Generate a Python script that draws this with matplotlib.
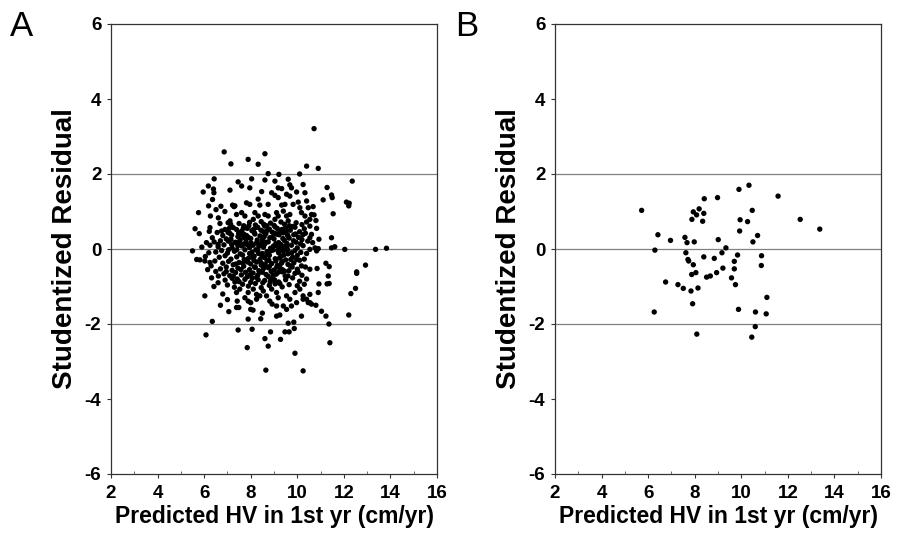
import matplotlib
matplotlib.use("Agg")
import matplotlib.pyplot as plt
from matplotlib.ticker import MultipleLocator

plt.rcParams['font.family'] = ['Liberation Sans', 'DejaVu Sans']

# ---------------- Panel A data ----------------
a_upper = [(6.86,2.59),(7.15,2.27),(6.43,1.87),(6.18,1.68),(5.96,1.52),(6.40,1.60),(6.42,1.50),
           (7.11,1.57),(7.46,1.79),(6.36,1.32),(6.19,1.15),(5.76,0.97),(6.27,0.88),(6.72,1.14),
           (6.51,1.05),(6.61,0.83),(7.22,1.17),(7.28,1.13),(6.89,1.00),(7.11,0.75),(7.03,0.70),
           (7.14,0.66),(6.68,0.68),(6.25,0.57),(5.61,0.54),(5.79,0.41),(6.22,0.47),(6.56,0.44),
           (6.75,0.48),(7.03,0.44),(7.18,0.37),(7.39,0.52),(6.10,0.17),(6.43,0.19),(6.25,0.10),
           (6.60,0.12),(7.04,0.21),(7.18,0.12),(7.32,0.17)]
a_top = [(10.72,3.21),(7.89,2.39),(8.32,2.26),(8.61,2.54),(10.40,2.21),(8.75,2.01),(10.10,2.00),
         (8.04,1.87),(8.61,1.84),(9.04,1.81),(9.61,1.86),(9.21,1.99),(7.61,1.68),(7.96,1.63),
         (9.18,1.63),(9.33,1.61),(9.68,1.71),(9.75,1.63),(10.25,1.72),(8.47,1.53),(8.90,1.50),
         (9.04,1.43),(9.18,1.37),(9.54,1.46),(9.68,1.41),(9.97,1.52),(10.33,1.50),(7.32,1.15),
         (7.82,1.23),(7.96,1.19),(8.32,1.33),(8.39,1.17),(8.75,1.19),(9.82,1.19),(10.04,1.25),
         (10.11,1.10),(10.40,1.28),(10.47,1.10),(9.33,1.17),(9.47,1.19),(9.40,1.01),(7.39,0.92),
         (7.61,0.97),(7.75,0.88),(8.18,0.97),(8.32,0.88),(8.11,0.79),(8.61,0.92),(8.75,0.88),
         (9.11,0.97),(9.18,0.88),(9.04,0.79),(9.54,0.88),(9.68,0.92),(9.61,0.75),(10.18,0.97),
         (10.33,0.88),(10.54,0.79),(10.61,0.92)]
a_right = [(10.90,2.15),(12.36,1.81),(11.28,1.64),(11.47,1.44),(11.50,1.37),(11.11,1.31),(12.11,1.25),
           (12.23,1.22),(12.21,1.15),(10.68,1.13),(10.72,0.91),(11.54,0.94),(10.80,0.76),(10.83,0.55),
           (10.54,0.61),(10.61,0.39),(10.54,0.30),(10.66,0.17),(10.93,0.26),(11.47,0.30),(10.76,0.03),
           (10.90,0.01),(11.47,0.03),(11.61,0.06),(12.04,-0.01),(13.36,-0.01),(13.83,0.02),
           (10.54,-0.01),(10.83,-0.05),(11.23,-0.38),(11.37,-0.47),(10.54,-0.54),(10.85,-0.52),
           (12.93,-0.43),(12.55,-0.61),(12.55,-0.65),(11.33,-0.72),(10.93,-0.93),(11.28,-0.93),
           (11.37,-0.92),(12.50,-1.05),(12.30,-1.19),(10.90,-1.16),(10.54,-1.43),(10.80,-1.50),
           (11.04,-1.66),(11.23,-1.79),(12.21,-1.76),(11.36,-2.00),(11.40,-2.50)]
a_lower = [(6.03,-0.32),(5.82,-0.29),(6.32,-0.77),(6.61,-0.72),(6.42,-1.00),(6.03,-1.25),(6.35,-1.93),
           (6.08,-2.29),(7.06,-1.67),(7.39,-1.56),(7.42,-1.39),(7.46,-2.16),(5.68,-0.28),(6.25,-0.36),
           (6.46,-0.32),(7.85,-2.63),(8.06,-2.14),(7.89,-1.87),(8.43,-1.86),(8.50,-1.71),(8.61,-2.39),
           (8.75,-2.59),(8.85,-2.21),(8.65,-3.23),(9.28,-2.41),(9.47,-2.21),(9.65,-2.21),(9.87,-2.12),
           (9.61,-1.98),(9.85,-1.95),(9.11,-1.79),(9.25,-1.76),(10.18,-1.79),(9.90,-2.78),(10.25,-3.25),
           (7.49,-1.56),(8.00,-1.61),(8.10,-1.63),(7.75,-1.30),(7.89,-1.39),(8.00,-1.43),(8.25,-1.34),
           (8.39,-1.25),(8.82,-1.39),(8.92,-1.47),(9.11,-1.52),(9.40,-1.52),(9.54,-1.61),(9.75,-1.52),
           (9.97,-1.43),(10.25,-1.34),(10.47,-1.43),(10.61,-1.47),(7.39,-1.16),(7.53,-1.07),(7.89,-1.16),
           (8.11,-1.07),(8.25,-1.21),(8.54,-1.12),(8.68,-1.25),(8.90,-1.07),(9.11,-1.16),(9.18,-1.30),
           (9.54,-1.25),(9.68,-1.34),(9.90,-1.16),(10.11,-1.07),(10.25,-1.25),(10.40,-1.34),(10.54,-1.21),
           (6.20,-0.10),(6.35,0.30),(5.90,0.05),(6.05,-0.20),(5.50,-0.05),(6.15,-0.55),(6.50,-0.60),
           (6.30,-0.45),(6.60,-0.90),(6.80,-1.20),(7.00,-1.35),(6.70,-1.50)]
a_core = [(7.50,0.68),(7.70,0.62),(7.95,0.71),(8.20,0.64),(8.45,0.73),(8.60,0.61),(8.85,0.69),
          (9.00,0.63),(9.30,0.72),(9.45,0.66),(9.80,0.60),(9.95,0.70),(10.20,0.65),(10.40,0.72),
          (6.90,0.52),(7.25,0.57),(7.60,0.47),(7.85,0.55),(8.05,0.49),(8.30,0.58),(8.55,0.46),
          (8.80,0.53),(9.05,0.59),(9.25,0.48),(9.50,0.56),(9.70,0.50),(9.90,0.58),(10.10,0.46),
          (10.30,0.54),(6.80,0.36),(7.10,0.42),(7.45,0.33),(7.70,0.40),(7.90,0.31),(8.15,0.44),
          (8.40,0.35),(8.65,0.41),(8.95,0.32),(9.15,0.39),(9.40,0.43),(9.60,0.34),(9.85,0.38),
          (10.05,0.31),(10.35,0.42),(6.70,0.22),(6.95,0.27),(7.35,0.18),(7.55,0.25),(7.80,0.20),
          (8.00,0.28),(8.25,0.16),(8.50,0.24),(8.75,0.19),(9.00,0.27),(9.20,0.17),(9.45,0.23),
          (9.65,0.29),(9.95,0.18),(10.20,0.25),(10.45,0.21),(6.60,0.06),(6.85,0.11),(7.20,0.03),
          (7.45,0.09),(7.70,0.13),(7.95,0.04),(8.10,0.10),(8.35,0.07),(8.60,0.13),(8.85,0.02),
          (9.10,0.08),(9.30,0.12),(9.55,0.05),(9.75,0.10),(10.00,0.03),(10.25,0.09),(6.50,-0.08),
          (6.75,-0.04),(7.00,-0.11),(7.30,-0.06),(7.55,-0.13),(7.75,-0.02),(8.05,-0.09),(8.30,-0.05),
          (8.50,-0.12),(8.70,-0.07),(8.95,-0.03),(9.20,-0.10),(9.40,-0.06),(9.60,-0.13),(9.90,-0.04),
          (10.15,-0.09),(10.40,-0.12),(6.65,-0.22),(6.90,-0.18),(7.15,-0.27),(7.40,-0.21),(7.65,-0.16),
          (7.90,-0.25),(8.15,-0.19),(8.40,-0.28),(8.60,-0.23),(8.80,-0.17),(9.05,-0.26),(9.30,-0.20),
          (9.50,-0.29),(9.80,-0.22),(10.00,-0.17),(10.30,-0.27),(6.80,-0.38),(7.05,-0.33),(7.25,-0.42),
          (7.50,-0.36),(7.80,-0.31),(8.00,-0.40),(8.25,-0.35),(8.45,-0.43),(8.70,-0.32),(8.90,-0.39),
          (9.15,-0.44),(9.35,-0.34),(9.60,-0.41),(9.85,-0.37),(10.10,-0.30),(6.70,-0.53),(6.95,-0.48),
          (7.20,-0.57),(7.45,-0.51),(7.70,-0.46),(7.95,-0.55),(8.20,-0.49),(8.35,-0.58),(8.55,-0.52),
          (8.80,-0.47),(9.00,-0.56),(9.25,-0.50),(9.45,-0.59),(9.70,-0.45),(10.00,-0.54),(10.35,-0.48),
          (6.85,-0.66),(7.10,-0.71),(7.35,-0.63),(7.60,-0.69),(7.85,-0.74),(8.10,-0.64),(8.30,-0.70),
          (8.50,-0.62),(8.75,-0.73),(9.10,-0.67),(9.35,-0.61),(9.60,-0.72),(9.90,-0.65),(10.20,-0.70),
          (6.90,-0.83),(7.20,-0.78),(7.50,-0.87),(7.75,-0.81),(8.00,-0.89),(8.25,-0.76),(8.60,-0.84),
          (8.85,-0.79),(9.20,-0.88),(9.50,-0.82),(9.80,-0.77),(10.10,-0.86),(10.40,-0.80),(7.00,-0.96),
          (7.30,-1.02),(7.65,-0.94),(7.90,-0.99),(8.20,-0.92),(8.45,-1.03),(8.80,-0.97),(9.05,-0.93),
          (9.35,-1.01),(9.65,-0.95),(10.00,-0.98),(10.30,-0.94)]
a_dense = [(7.62,0.08),(7.88,-0.35),(8.12,0.52),(8.38,-0.62),(8.58,0.33),(8.72,-0.15),(8.92,0.45),
           (9.12,-0.48),(9.28,0.02),(9.48,-0.72),(7.58,-0.55),(7.82,0.36),(8.08,-0.22),(8.28,0.24),
           (8.52,-0.90),(8.68,0.62),(8.88,-0.60),(9.08,0.15),(9.32,-0.38),(9.52,0.48),(7.42,-0.80),
           (7.68,0.55),(7.98,-0.68),(8.22,-0.02),(8.42,0.14),(8.62,-0.42),(8.82,0.30),(9.02,-0.82),
           (9.22,0.38),(9.42,-0.16),(7.72,-0.28),(8.02,0.16),(8.32,-0.82),(8.55,0.05),(8.78,-0.30),
           (8.98,0.08),(9.18,-0.62),(9.38,0.28),(9.58,-0.02),(9.78,-0.48),(7.52,0.20),(7.78,-0.62),
           (8.18,0.40),(8.48,-0.18),(8.72,0.50),(9.08,-0.32),(9.25,-0.92),(9.55,0.15),(9.72,-0.28),
           (9.92,0.40),(7.36,-0.40),(7.60,0.38),(7.95,-0.12),(8.16,-0.48),(8.44,0.50),(8.66,-0.68),
           (8.86,-0.05),(9.14,0.55),(9.36,-0.55),(9.66,0.62),
           (7.05,-0.02),(7.25,-0.72),(7.48,0.42),(7.66,-0.38),(7.84,0.12),(8.06,-0.78),(8.26,0.58),
           (8.46,-0.38),(8.64,0.18),(8.84,-0.88),(9.04,0.42),(9.24,-0.24),(9.44,0.06),(9.64,-0.58),
           (9.84,0.22),(10.04,-0.62),(10.24,0.38),(6.95,-0.60),(7.15,0.26),(7.40,-0.02),(7.92,0.62),
           (8.34,-0.12),(8.76,-0.50),(9.16,-0.04),(9.58,0.38),(9.98,-0.28),(10.18,-0.45),(7.08,0.55),
           (7.32,-0.88),(7.74,0.30),(8.14,-0.30),(8.56,0.66),(8.96,-0.70),(9.34,0.52),(9.76,-0.10),
           (10.14,0.14)]

# ---------------- Panel B data ----------------
b_x = [5.72, 6.42, 6.29, 6.26, 6.75, 6.96, 7.28, 7.51, 7.58, 7.67, 7.98, 7.62, 7.71, 7.94,
       8.05, 7.87, 7.84, 8.14, 7.91, 8.51, 8.39, 7.88, 8.34, 7.94, 8.08, 8.19, 8.39, 8.41,
       8.09, 8.98, 9.90, 10.33, 11.58, 10.47, 9.95, 10.27, 9.93, 10.70, 10.50, 9.01, 9.34,
       9.17, 9.84, 10.87, 9.70, 10.86, 9.70, 9.21, 8.94, 8.67, 8.84, 9.58, 9.75, 11.10,
       9.88, 10.61, 11.07, 10.45, 10.60, 12.53, 13.37, 7.74]
b_y = [1.03, 0.38, -0.03, -1.68, -0.88, 0.23, -0.95, -1.05, 0.31, 0.17, 0.19, -0.10, -0.28, -0.42,
       -0.63, -0.68, -1.12, -1.04, -1.46, -0.75, -0.21, 0.79, 0.74, 0.99, 0.91, 1.07, 0.95, 1.34,
       -2.27, 1.37, 1.59, 1.70, 1.41, 1.03, 0.78, 0.73, 0.48, 0.36, 0.19, 0.25, 0.03,
       -0.10, -0.16, -0.18, -0.33, -0.44, -0.53, -0.51, -0.63, -0.72, -0.25, -0.77, -0.95, -1.29,
       -1.61, -1.68, -1.73, -2.35, -2.07, 0.79, 0.53, -0.32]

x_ticks = [2, 4, 6, 8, 10, 12, 14, 16]
y_ticks = [-6, -4, -2, 0, 2, 4, 6]
ref_lines = [-2, 0, 2]

W, H = 897, 534
fig = plt.figure(figsize=(W / 100, H / 100), dpi=100)
axA = fig.add_axes([111 / W, 1 - 474 / H, 326 / W, 450 / H])
axB = fig.add_axes([555 / W, 1 - 474 / H, 326 / W, 450 / H])

a_all = a_upper + a_top + a_right + a_lower + a_core + a_dense
a_x = [p[0] for p in a_all]
a_y = [p[1] for p in a_all]

for ax, xs, ys, letter, lx in [(axA, a_x, a_y, 'A', 10 / W), (axB, b_x, b_y, 'B', 455 / W)]:
    for yv in ref_lines:
        ax.axhline(yv, color='#808080', lw=0.9, zorder=1)
    ax.scatter(xs, ys, s=15, c='black', edgecolors='none', zorder=3)
    ax.set_xlim(2, 16)
    ax.set_ylim(-6, 6)
    ax.set_xticks(x_ticks)
    ax.set_yticks(y_ticks)
    ax.set_xticklabels([str(t) for t in x_ticks])
    ax.set_yticklabels([str(t).replace('\u2212', '-') for t in y_ticks])
    ax.xaxis.set_minor_locator(MultipleLocator(1))
    ax.tick_params(axis='both', which='major', direction='out', length=3, width=0.8,
                   labelsize=13.5, color='#333333')
    ax.tick_params(axis='x', which='major', pad=5)
    ax.tick_params(axis='y', which='major', pad=4)
    ax.tick_params(axis='x', which='minor', direction='in', length=2, width=0.6, color='#555555')
    for lbl in ax.get_xticklabels() + ax.get_yticklabels():
        lbl.set_fontweight('bold')
    for sp in ax.spines.values():
        sp.set_color('#333333')
        sp.set_linewidth(0.9)
    ax.set_xlabel('Predicted HV in 1st yr (cm/yr)', fontsize=16.5, fontweight='bold', labelpad=2)
    ax.set_ylabel('Studentized Residual', fontsize=20, fontweight='bold', labelpad=5)
    fig.text(lx, 1 - 27 / H, letter, fontsize=25, ha='left', va='center')

fig.savefig('out.png', dpi=100)
